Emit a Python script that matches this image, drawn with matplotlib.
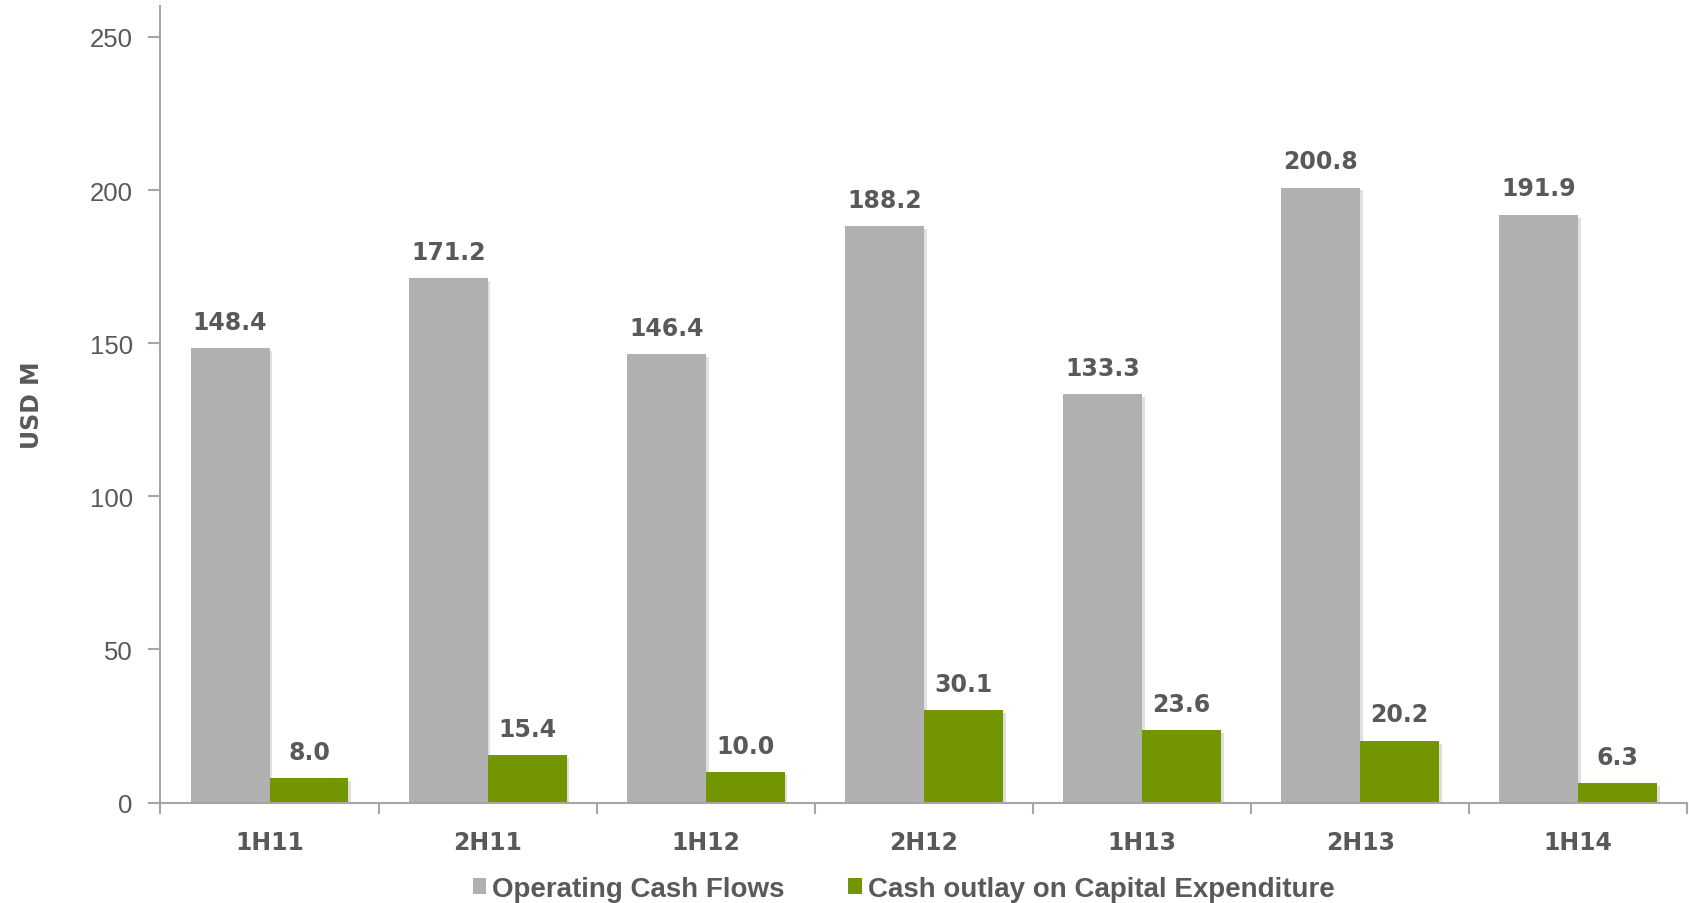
import numpy as np
import matplotlib.pyplot as plt
import matplotlib.patheffects as pe

periods = ['1H11', '2H11', '1H12', '2H12', '1H13', '2H13', '1H14']
operating = [148.4, 171.2, 146.4, 188.2, 133.3, 200.8, 191.9]
capex = [8.0, 15.4, 10.0, 30.1, 23.6, 20.2, 6.3]
series_names = ['Operating Cash Flows', 'Cash outlay on Capital Expenditure']

gray = '#B0B0B0'
green = '#739600'
txt = '#595959'
axis_col = '#A6A6A6'

fig = plt.figure(figsize=(16.89, 9.04), dpi=100)
ax = fig.add_axes([0.095, 0.111, 0.904, 0.881])

x = np.arange(len(periods))
w = 0.362
shadow = [pe.SimplePatchShadow(offset=(2, -2), alpha=0.15), pe.Normal()]
b1 = ax.bar(x - w / 2, operating, w, color=gray, label=series_names[0], path_effects=shadow)
b2 = ax.bar(x + w / 2, capex, w, color=green, label=series_names[1], path_effects=shadow)

# value labels above bars
for bars, vals in [(b1, operating), (b2, capex)]:
    for r, v in zip(bars, vals):
        ax.annotate(f'{v:.1f}', (r.get_x() + r.get_width() / 2, v),
                    xytext=(0, 19), textcoords='offset points',
                    ha='center', va='center', fontsize=17, fontweight='bold', color=txt)

ax.set_xlim(-0.5, len(periods) - 0.5)
ax.set_ylim(0, 260)
ax.set_yticks([0, 50, 100, 150, 200, 250])
ax.set_xticks(x)
ax.set_xticklabels(periods)
ax.set_xticks(np.arange(-0.5, len(periods), 1.0), minor=True)

for s in ['top', 'right']:
    ax.spines[s].set_visible(False)
for s in ['left', 'bottom']:
    ax.spines[s].set_color(axis_col)
    ax.spines[s].set_linewidth(1.5)

ax.tick_params(axis='y', direction='out', length=9, width=1.5, color=axis_col,
               labelsize=18.5, labelcolor=txt, pad=11)
ax.tick_params(axis='x', which='major', length=0, pad=20, labelsize=17, labelcolor=txt)
ax.tick_params(axis='x', which='minor', direction='out', length=8, width=1.5, color=axis_col)
for lbl in ax.get_yticklabels():
    lbl.set_family('Liberation Sans')
for lbl in ax.get_xticklabels():
    lbl.set_fontweight('bold')

ax.set_ylabel('USD M', fontsize=17, fontweight='bold', color=txt, labelpad=33)

leg = fig.legend(handles=[b1, b2], loc='center', bbox_to_anchor=(0.535, 0.016), ncol=2,
                 frameon=False, handlelength=0.5, handleheight=0.5,
                 handletextpad=0.2, columnspacing=2.3,
                 prop={'family': 'Liberation Sans', 'weight': 'bold', 'size': 20})
for t in leg.get_texts():
    t.set_color(txt)
for h in leg.legend_handles:
    h.set_path_effects([])

fig.savefig('out.png', dpi=100)
